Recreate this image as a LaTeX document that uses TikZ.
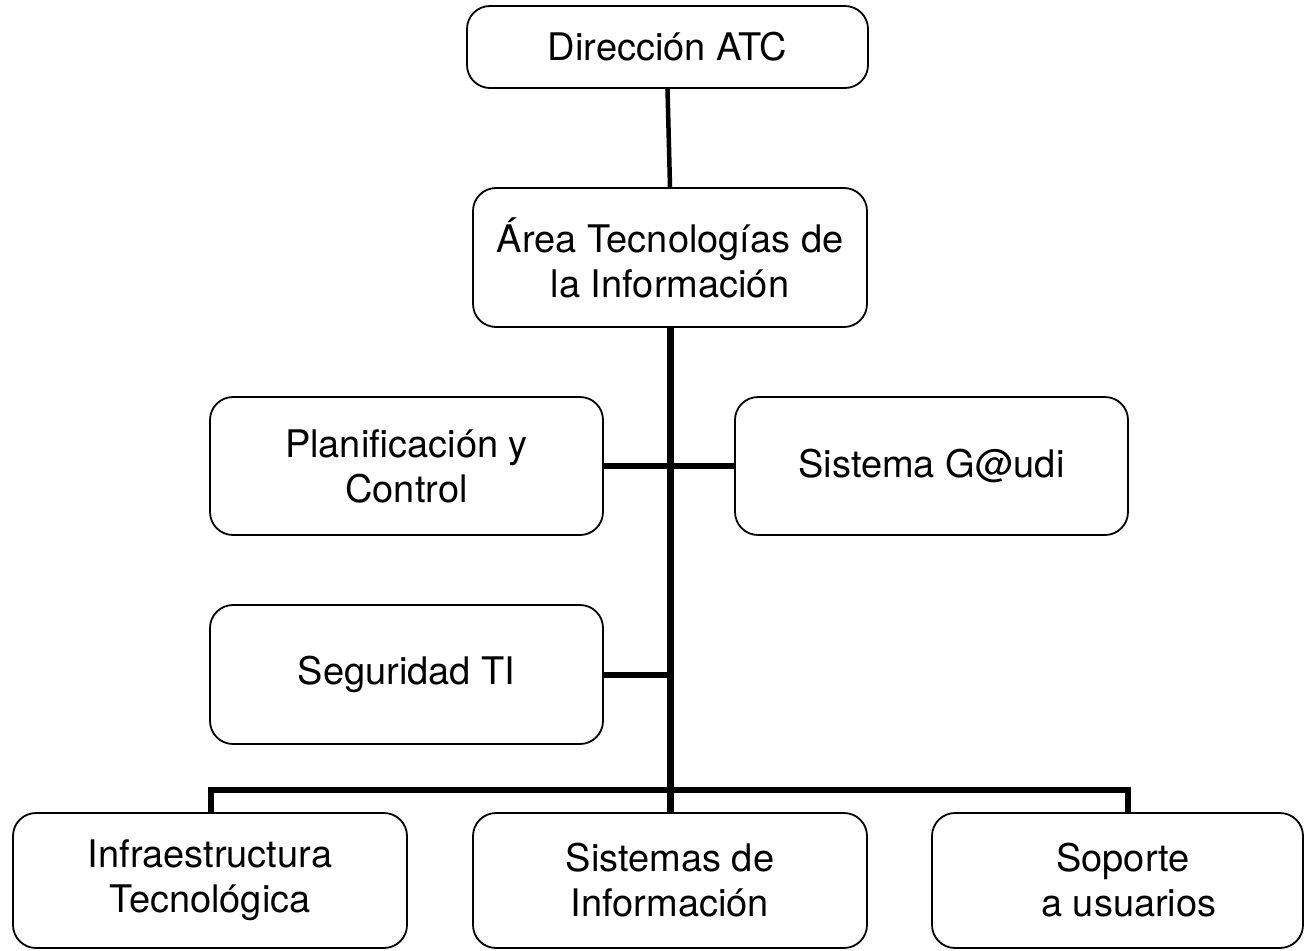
\documentclass[tikz,border=0pt]{standalone}
\usepackage{fontspec}
\setmainfont{TeX Gyre Heros}
\begin{document}
\begin{tikzpicture}[x=1pt,y=-1pt,
  box/.style={draw=black, line width=1.8pt, rounded corners=23pt, inner sep=0pt,
    align=center, font=\fontsize{38}{45}\selectfont},
  thinlink/.style={line width=4.5pt},
  mainlink/.style={line width=7pt},
  sidelink/.style={line width=6pt}]
\useasboundingbox (0,0) rectangle (1308,950);
\node[box, minimum width=401pt, minimum height=82pt] (dir) at (667.5,47) {Dirección ATC};
\node[box, minimum width=394pt, minimum height=139pt] (area) at (670,257.5) {Área Tecnologías de\\la Información};
\node[box, minimum width=393pt, minimum height=138pt] (plan) at (406.5,466) {Planificación y\\Control};
\node[box, minimum width=393pt, minimum height=138pt] (gaudi) at (931.5,466) {Sistema G@udi};
\node[box, minimum width=393pt, minimum height=139pt] (seg) at (406.5,674.5) {Seguridad TI};
\node[box, minimum width=394pt, minimum height=135pt] (infra) at (210,880.5) {Infraestructura\\Tecnológica};
\node[box, minimum width=394pt, minimum height=135pt] (sisinf) at (670,880.5) {Sistemas de\\Información};
\node[box, minimum width=371pt, minimum height=135pt] (sop) at (1117.5,880.5) {\hspace*{0.3em}Soporte\\\hspace*{0.6em}a usuarios};
\coordinate (bar) at (670,790);
\draw[thinlink] (dir.south) -- (area.north);
\draw[mainlink] (area.south) -- (sisinf.north);
\draw[sidelink] (plan.east) -- (gaudi.east -| gaudi.west);
\draw[sidelink] (seg.east) -- (seg.east -| area.south);
\draw[sidelink] (infra.north -| 211,0) -- (bar -| 211,0) -- (bar -| 1128,0) -- (sop.north -| 1128,0);
\end{tikzpicture}
\end{document}
